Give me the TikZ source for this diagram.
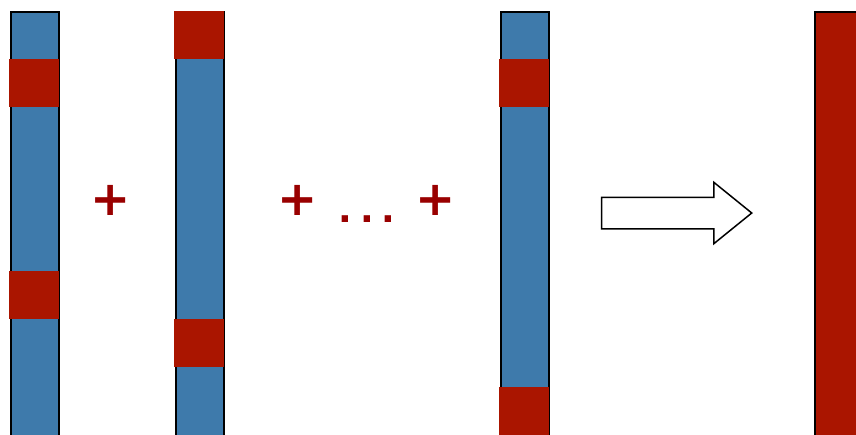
\documentclass[tikz,border=0pt]{standalone}
\usepackage{fontspec}
\usepackage{tikz}
\usetikzlibrary{shapes.arrows}
\newfontfamily\signfont{DejaVu Sans}
\definecolor{barblue}{RGB}{62,122,171}
\definecolor{barred}{RGB}{170,21,0}
\definecolor{signred}{RGB}{153,0,0}

\begin{document}
\begin{tikzpicture}[
  x=1pt, y=-1pt,
  bar/.style={draw=black, line width=2pt, fill=barblue, anchor=north west, inner sep=0pt, minimum width=48pt, minimum height=440pt},
  hit/.style={fill=barred, anchor=north west, inner sep=0pt, minimum width=50pt, minimum height=48pt},
  sign/.style={text=signred, inner sep=0pt, font=\signfont\bfseries\fontsize{48}{48}\selectfont}
]
\useasboundingbox (0,0) rectangle (856,434);
\clip (0,0) rectangle (856,434);
% sample vectors
\node[bar] (v1) at (10,11) {};
\node[hit] (v1a) at (9,59) {};
\node[hit] (v1b) at (9,271) {};
\node[bar] (v2) at (175,11) {};
\node[hit] (v2a) at (174,11) {};
\node[hit] (v2b) at (174,319) {};
\node[bar] (vn) at (500,11) {};
\node[hit] (vna) at (499,59) {};
\node[hit, minimum height=60pt] (vnb) at (499,387) {};
% sum
\node[sign] (p1) at (111,200) {+};
\node[sign] (p2) at (298,200) {+};
\node[sign, anchor=base, font=\signfont\bfseries\fontsize{36}{36}\selectfont] (dots) at (367,222) {.\kern8pt.\kern8pt.};
\node[sign] (p3) at (436,200) {+};
% result
\node[single arrow, draw=black, line width=1.5pt, fill=white, inner xsep=0pt, inner ysep=15pt,
  minimum height=150pt, single arrow head extend=15pt,
  single arrow tip angle=78] (res) at (667,213) {};
\node[bar, fill=barred, minimum width=60pt] (out) at (814,11) {};
\end{tikzpicture}
\end{document}
